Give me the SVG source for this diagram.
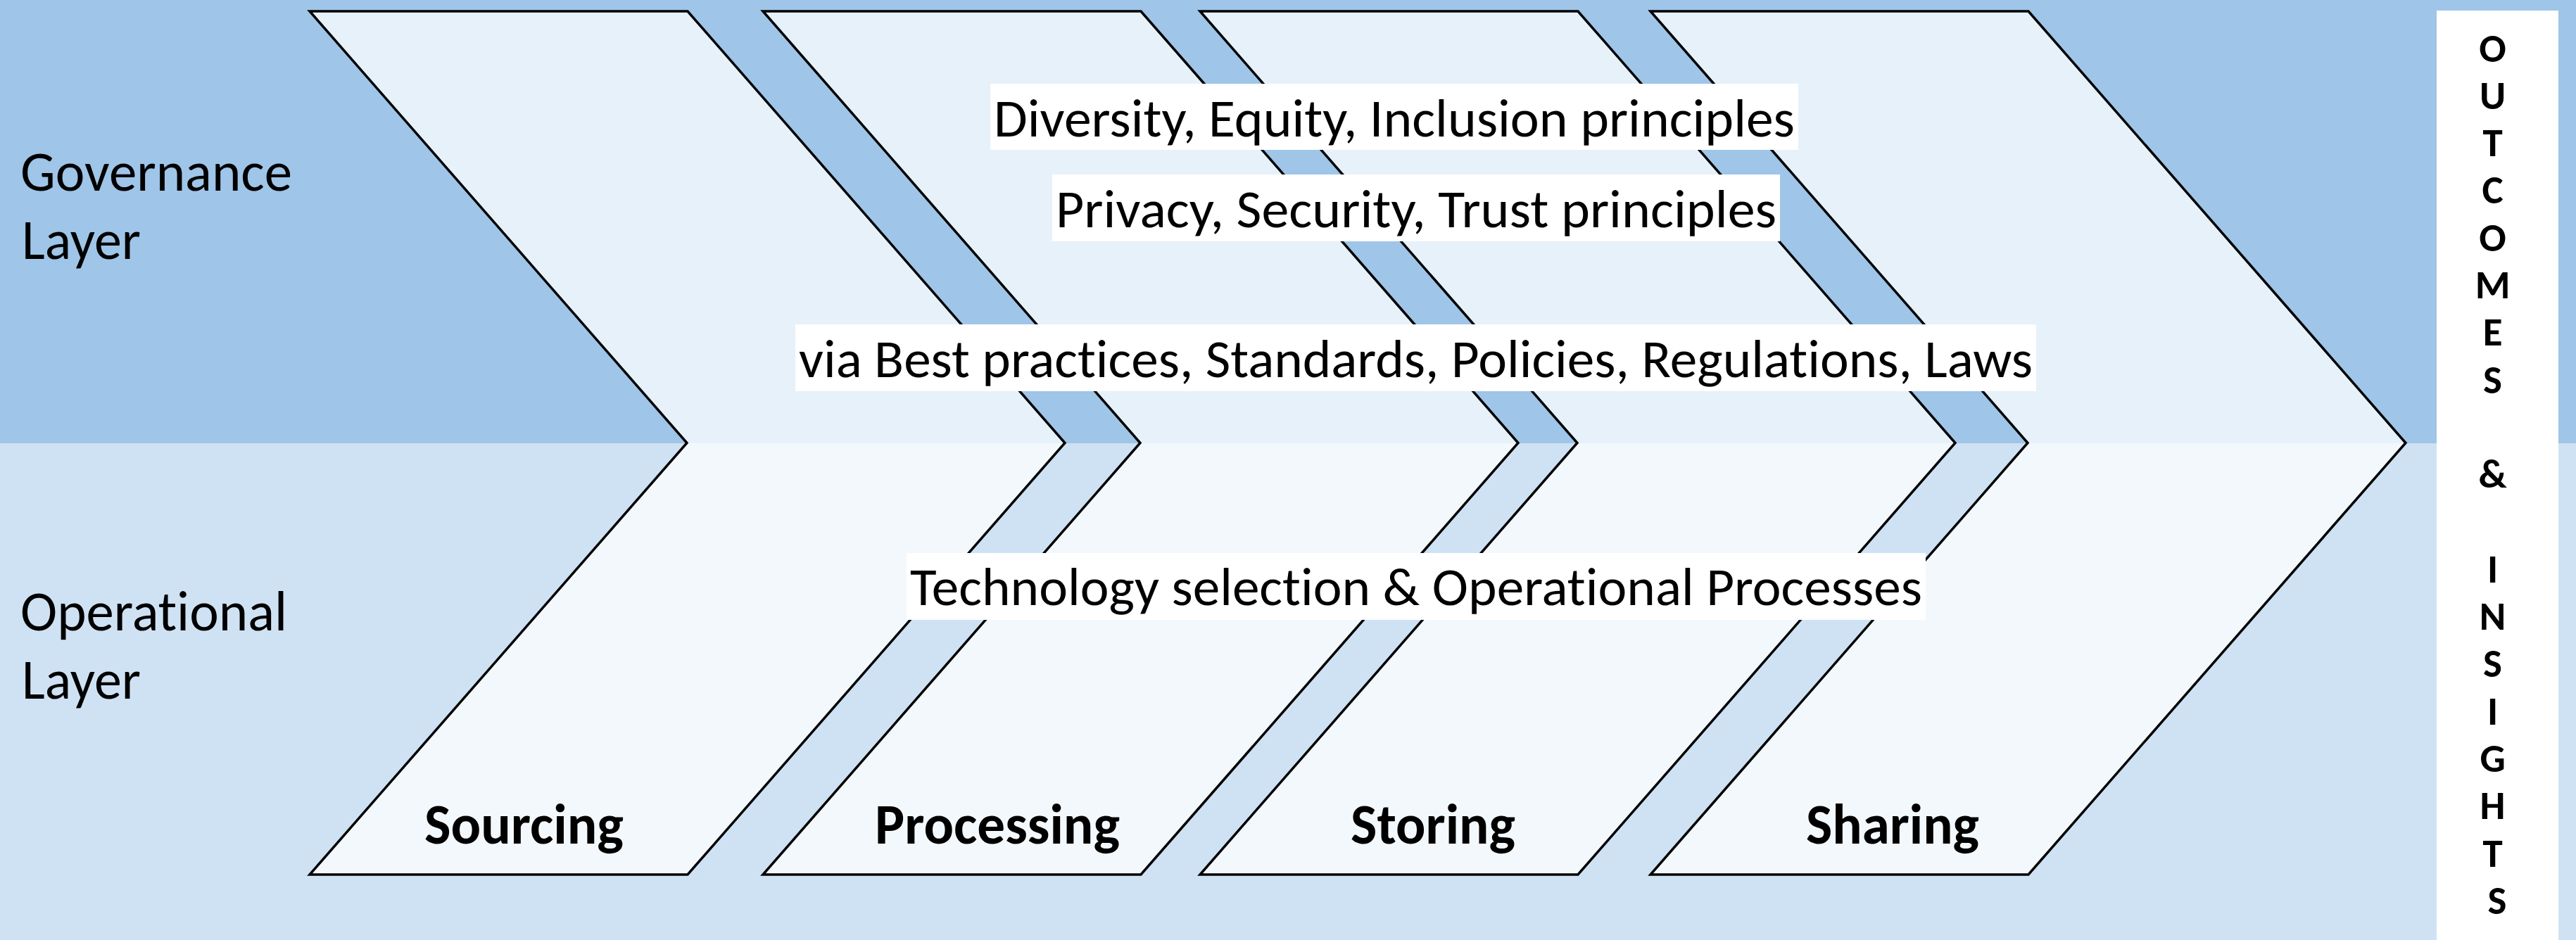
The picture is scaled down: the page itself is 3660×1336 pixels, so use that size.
<svg xmlns="http://www.w3.org/2000/svg" width="3660" height="1336" viewBox="0 0 3660 1336">
<style>
.chev{fill:#ffffff;fill-opacity:0.75;stroke:#000;stroke-width:3.5;stroke-linejoin:miter}
.box{fill:#ffffff}
text{font-variant-ligatures:none;font-feature-settings:"liga" 0,"clig" 0,"dlig" 0}
.t{font-family:Carlito,"Open Sans","Noto Sans",sans-serif;fill:#000;font-size:77px}
.lay{font-family:Carlito,"Open Sans","Noto Sans",sans-serif;fill:#000;font-size:80px}
.lbl{font-family:Carlito,"Open Sans","Noto Sans",sans-serif;fill:#000;font-size:80px;font-weight:bold}
.out{font-family:Carlito,"Open Sans","Noto Sans",sans-serif;fill:#000;font-size:57px;font-weight:bold;text-anchor:middle}
</style>
<g id="background">
<rect x="0" y="0" width="3660" height="630" fill="#9FC5E8"/>
<rect x="0" y="630" width="3660" height="706" fill="#CFE2F3"/>
</g>
<g id="layer-labels">
<text class="lay"><tspan x="29" y="271" textLength="386" lengthAdjust="spacingAndGlyphs">Governance</tspan><tspan x="31" y="368" textLength="169" lengthAdjust="spacingAndGlyphs">Layer</tspan></text>
<text class="lay"><tspan x="29" y="896" textLength="379" lengthAdjust="spacingAndGlyphs">Operational</tspan><tspan x="31" y="993" textLength="169" lengthAdjust="spacingAndGlyphs">Layer</tspan></text>
</g>
<g id="sourcing">
<polygon class="chev" points="440,16 977,16 1513,629.5 977,1243 440,1243 976,629.5"/>
<text class="lbl" x="603" y="1199" textLength="283" lengthAdjust="spacingAndGlyphs">Sourcing</text>
</g>
<g id="processing">
<polygon class="chev" points="1084,16 1621,16 2157,629.5 1621,1243 1084,1243 1620,629.5"/>
<text class="lbl" x="1243" y="1199" textLength="348" lengthAdjust="spacingAndGlyphs">Processing</text>
</g>
<g id="storing">
<polygon class="chev" points="1705,16 2242,16 2778,629.5 2242,1243 1705,1243 2241,629.5"/>
<text class="lbl" x="1919" y="1199" textLength="234" lengthAdjust="spacingAndGlyphs">Storing</text>
</g>
<g id="sharing">
<polygon class="chev" points="2345,16 2882,16 3418,629.5 2882,1243 2345,1243 2881,629.5"/>
<text class="lbl" x="2566" y="1199" textLength="246" lengthAdjust="spacingAndGlyphs">Sharing</text>
</g>
<g id="dei-principles">
<rect class="box" x="1407" y="119" width="1148" height="94"/>
<text class="t" x="1412" y="194" textLength="1138" lengthAdjust="spacingAndGlyphs">Diversity, Equity, Inclusion principles</text>
</g>
<g id="pst-principles">
<rect class="box" x="1495" y="248" width="1034" height="95"/>
<text class="t" x="1500" y="323" textLength="1024" lengthAdjust="spacingAndGlyphs">Privacy, Security, Trust principles</text>
</g>
<g id="via-best-practices">
<rect class="box" x="1130" y="461" width="1763" height="95"/>
<text class="t" x="1135" y="536" textLength="1753" lengthAdjust="spacingAndGlyphs">via Best practices, Standards, Policies, Regulations, Laws</text>
</g>
<g id="technology">
<rect class="box" x="1288" y="786" width="1448" height="95"/>
<text class="t" x="1293" y="860" textLength="1438" lengthAdjust="spacingAndGlyphs">Technology selection &amp; Operational Processes</text>
</g>
<g id="outcomes-insights">
<rect class="box" x="3462" y="15" width="173" height="1321"/>
<text class="out">
<tspan x="3548" y="87.5">O</tspan>
<tspan x="3548" y="154.8">U</tspan>
<tspan x="3548" y="222.1">T</tspan>
<tspan x="3548" y="289.4">C</tspan>
<tspan x="3548" y="356.7">O</tspan>
<tspan x="3548" y="424">M</tspan>
<tspan x="3548" y="491.3">E</tspan>
<tspan x="3548" y="558.6">S</tspan>
<tspan x="3548" y="693.2">&amp;</tspan>
<tspan x="3548" y="827.8">I</tspan>
<tspan x="3548" y="895.1">N</tspan>
<tspan x="3548" y="962.4">S</tspan>
<tspan x="3548" y="1029.7">I</tspan>
<tspan x="3548" y="1097">G</tspan>
<tspan x="3548" y="1164.3">H</tspan>
<tspan x="3548" y="1231.6">T</tspan>
<tspan x="3548" y="1298.9">S</tspan>
</text>
</g>
</svg>
